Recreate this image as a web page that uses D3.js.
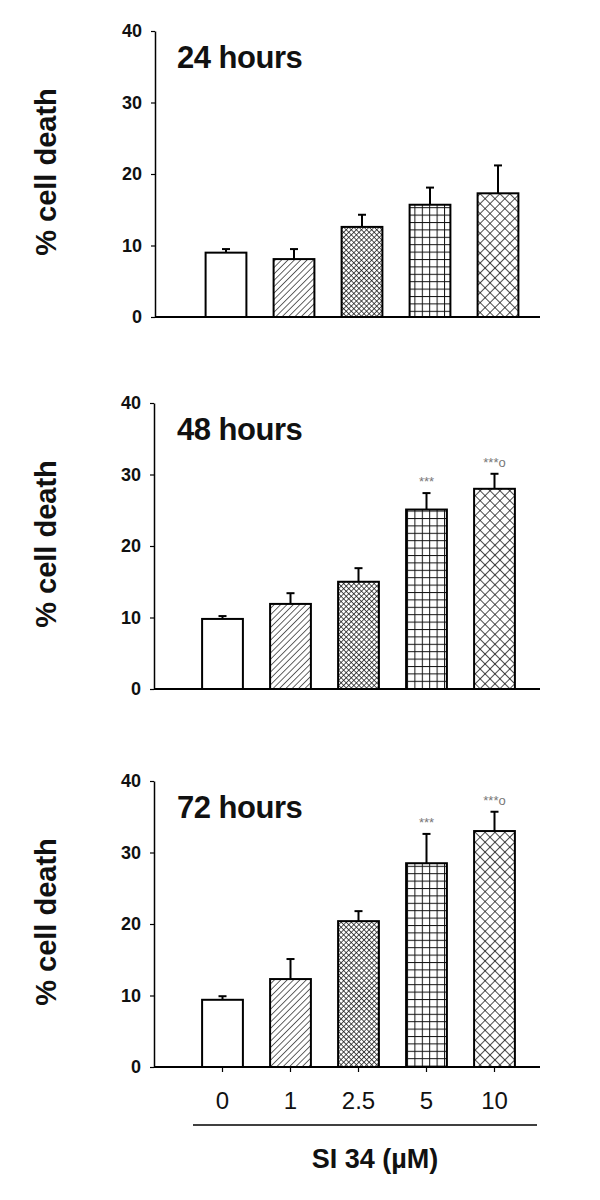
<!DOCTYPE html>
<html>
<head>
<meta charset="utf-8">
<script src="https://cdn.jsdelivr.net/npm/d3@7/dist/d3.min.js"></script>
<style>
  body { margin: 0; background: #fff; }
  text { font-family: "Liberation Sans", Arial, sans-serif; }
</style>
</head>
<body>
<svg id="chart" width="600" height="1200"></svg>
<script>
// values
const doses = ["0", "1", "2.5", "5", "10"];
const titles = ["24 hours", "48 hours", "72 hours"];
const mean24 = [9.0, 8.1, 12.6, 15.7, 17.3];
const err24 = [0.5, 1.4, 1.7, 2.4, 3.9];
const mean48 = [9.8, 11.9, 15.0, 25.1, 28.0];
const err48 = [0.4, 1.5, 1.9, 2.3, 2.1];
const mean72 = [9.4, 12.3, 20.4, 28.5, 33.0];
const err72 = [0.5, 2.8, 1.4, 4.1, 2.7];
const marks24 = ["", "", "", "", ""];
const marks48 = ["", "", "", "***", "***o"];
const marks72 = ["", "", "", "***", "***o"];
const yTicks = [0, 10, 20, 30, 40];
const xTitle = "SI 34 (\u00b5M)";
const yTitle = "% cell death";

const svg = d3.select('#chart');
const defs = svg.append('defs');

// fill patterns, one per dose
const addHatch = (id, size, angles, sw) => {
  const p = defs.append('pattern')
    .attr('id', id)
    .attr('patternUnits', 'userSpaceOnUse')
    .attr('width', size)
    .attr('height', size)
    .attr('patternTransform', `rotate(${angles[0]})`);
  p.append('rect').attr('width', size).attr('height', size).attr('fill', '#fff');
  p.append('line').attr('x1', 0).attr('y1', 0).attr('x2', 0).attr('y2', size)
    .attr('stroke', '#111').attr('stroke-width', sw);
  if (angles.length > 1) {
    p.append('line').attr('x1', 0).attr('y1', 0).attr('x2', size).attr('y2', 0)
      .attr('stroke', '#111').attr('stroke-width', sw);
  }
};
addHatch('diag', 4.5, [45], 1.3);
addHatch('dense', 3.6, [45, 1], 1.4);
addHatch('grid', 7.4, [0, 1], 2);
addHatch('cross', 7, [45, 1], 1.5);
const fills = ['#fff', 'url(#diag)', 'url(#dense)', 'url(#grid)', 'url(#cross)'];

const panels = [
  { title: titles[0], mean: mean24, err: err24, marks: marks24, top: 31, bottom: 317, axisX: 155, x0: 192 },
  { title: titles[1], mean: mean48, err: err48, marks: marks48, top: 403, bottom: 689, axisX: 154, x0: 188.5 },
  { title: titles[2], mean: mean72, err: err72, marks: marks72, top: 781, bottom: 1067, axisX: 154, x0: 188.5 }
];

panels.forEach((p, pi) => {
  const y = d3.scaleLinear().domain([0, 40]).range([p.bottom, p.top]);
  const x = d3.scaleBand().domain(doses).range([p.x0, p.x0 + 340])
    .paddingInner(0.4).paddingOuter(0.2);
  const g = svg.append('g');

  // bars
  g.selectAll('rect.bar')
    .data(p.mean)
    .join('rect')
    .attr('class', 'bar')
    .attr('x', (d, i) => x(doses[i]))
    .attr('y', d => y(d))
    .attr('width', x.bandwidth())
    .attr('height', d => y(0) - y(d))
    .attr('fill', (d, i) => fills[i])
    .attr('stroke', '#000')
    .attr('stroke-width', 2);

  // error bars (upper only)
  const cx = i => x(doses[i]) + x.bandwidth() / 2;
  g.selectAll('line.err')
    .data(p.mean)
    .join('line')
    .attr('class', 'err')
    .attr('x1', (d, i) => cx(i)).attr('x2', (d, i) => cx(i))
    .attr('y1', d => y(d))
    .attr('y2', (d, i) => y(d + p.err[i]))
    .attr('stroke', '#000').attr('stroke-width', 2);
  g.selectAll('line.cap')
    .data(p.mean)
    .join('line')
    .attr('class', 'cap')
    .attr('x1', (d, i) => cx(i) - 4).attr('x2', (d, i) => cx(i) + 4)
    .attr('y1', (d, i) => y(d + p.err[i]))
    .attr('y2', (d, i) => y(d + p.err[i]))
    .attr('stroke', '#000').attr('stroke-width', 2);

  // significance marks
  g.selectAll('text.mark')
    .data(p.marks)
    .join('text')
    .attr('class', 'mark')
    .attr('x', (d, i) => cx(i))
    .attr('y', (d, i) => y(p.mean[i] + p.err[i]) - 7)
    .attr('text-anchor', 'middle')
    .attr('font-size', 13)
    .attr('fill', '#777')
    .text(d => d);

  // y axis
  const yAxis = g.append('g')
    .attr('transform', `translate(${p.axisX},0)`)
    .call(d3.axisLeft(y).tickValues(yTicks).tickSize(4).tickSizeOuter(0).tickPadding(9));
  yAxis.select('.domain').attr('stroke', '#000').attr('stroke-width', 1.5);
  yAxis.selectAll('.tick line').attr('stroke', '#000').attr('stroke-width', 1.2);
  yAxis.selectAll('.tick text')
    .attr('font-family', '"Liberation Sans", Arial, sans-serif')
    .attr('font-size', 18).attr('font-weight', 'bold').attr('fill', '#111');

  // x axis line
  g.append('line')
    .attr('x1', p.axisX).attr('x2', 540)
    .attr('y1', y(0)).attr('y2', y(0))
    .attr('stroke', '#000').attr('stroke-width', 2);

  if (pi === 2) {
    const xAxis = g.append('g')
      .attr('transform', `translate(0,${y(0)})`)
      .call(d3.axisBottom(x).tickSize(5).tickPadding(20));
    xAxis.select('.domain').remove();
    xAxis.selectAll('.tick line').attr('stroke', '#000').attr('stroke-width', 1.2);
    xAxis.selectAll('.tick text')
      .attr('font-family', '"Liberation Sans", Arial, sans-serif')
      .attr('font-size', 24).attr('fill', '#111');
  }

  // panel title
  g.append('text')
    .attr('x', 177).attr('y', p.top + 37)
    .attr('font-size', 31).attr('font-weight', 'bold').attr('fill', '#111')
    .attr('letter-spacing', -0.5)
    .text(p.title);

  // y title
  g.append('text')
    .attr('transform', `translate(46,${(p.top + p.bottom) / 2 - 2}) rotate(-90)`)
    .attr('text-anchor', 'middle')
    .attr('dominant-baseline', 'central')
    .attr('font-size', 29).attr('font-weight', 'bold').attr('fill', '#111')
    .text(yTitle);
});

// group line and x title under the bottom panel
svg.append('line')
  .attr('x1', 193).attr('x2', 537)
  .attr('y1', 1125).attr('y2', 1125)
  .attr('stroke', '#000').attr('stroke-width', 1.5);
svg.append('text')
  .attr('x', 375).attr('y', 1168)
  .attr('text-anchor', 'middle')
  .attr('font-size', 27).attr('font-weight', 'bold').attr('fill', '#111')
  .text(xTitle);
</script>
</body>
</html>
